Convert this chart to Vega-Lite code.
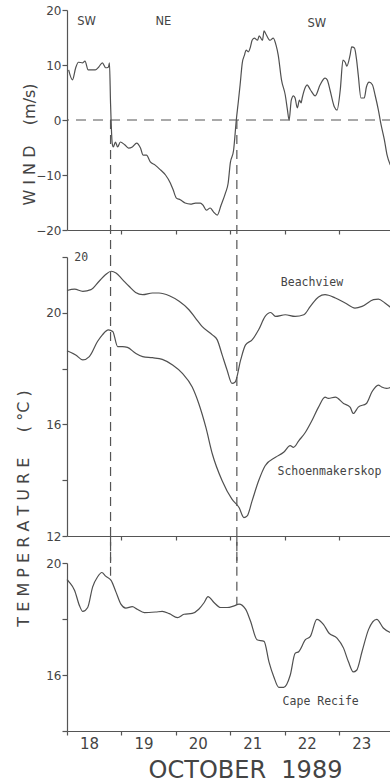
{
  "$schema": "https://vega.github.io/schema/vega-lite/v6.json",
  "background": "white",
  "padding": {"left": 15, "top": 4, "right": 0, "bottom": 0},
  "bounds": "flush",
  "spacing": 27,
  "config": {
    "view": {"stroke": null},
    "axis": {"grid": false, "domainColor": "#555", "tickColor": "#555", "domainWidth": 1.2, "tickWidth": 1.2, "labelColor": "#444", "titleColor": "#444", "labelFont": "DejaVu Sans", "titleFont": "DejaVu Sans", "titleFontWeight": "normal", "labelFontSize": 12}
  },
  "datasets": {
    "wind": [
      {"day":18.03,"v":9.1},{"day":18.10,"v":7.3},{"day":18.16,"v":9.5},{"day":18.21,"v":10.5},{"day":18.29,"v":10.4},{"day":18.33,"v":10.7},{"day":18.39,"v":9.1},{"day":18.52,"v":9.1},{"day":18.58,"v":9.6},{"day":18.65,"v":10.4},{"day":18.71,"v":9.5},{"day":18.76,"v":9.6},{"day":18.78,"v":10.4},{"day":18.80,"v":3},{"day":18.83,"v":-4.2},{"day":18.85,"v":-4.9},{"day":18.89,"v":-4.0},{"day":18.93,"v":-4.9},{"day":18.98,"v":-4.0},{"day":19.06,"v":-4.5},{"day":19.13,"v":-5.1},{"day":19.20,"v":-4.9},{"day":19.28,"v":-4.2},{"day":19.35,"v":-5.1},{"day":19.40,"v":-6.4},{"day":19.46,"v":-6.4},{"day":19.53,"v":-7.6},{"day":19.62,"v":-8.2},{"day":19.72,"v":-9.1},{"day":19.81,"v":-10.0},{"day":19.90,"v":-11.5},{"day":19.95,"v":-12.7},{"day":20.01,"v":-14.2},{"day":20.08,"v":-14.5},{"day":20.17,"v":-15.1},{"day":20.27,"v":-15.3},{"day":20.36,"v":-15.1},{"day":20.45,"v":-15.1},{"day":20.50,"v":-15.5},{"day":20.56,"v":-16.4},{"day":20.63,"v":-16.0},{"day":20.69,"v":-16.7},{"day":20.76,"v":-17.3},{"day":20.83,"v":-15.5},{"day":20.91,"v":-13.3},{"day":20.96,"v":-11.5},{"day":21.00,"v":-7.8},{"day":21.06,"v":-5.5},{"day":21.11,"v":0},{"day":21.15,"v":3.6},{"day":21.18,"v":6.4},{"day":21.22,"v":10.4},{"day":21.26,"v":11.8},{"day":21.29,"v":12.7},{"day":21.33,"v":12.4},{"day":21.37,"v":13.3},{"day":21.40,"v":14.5},{"day":21.44,"v":14.9},{"day":21.50,"v":14.5},{"day":21.53,"v":15.3},{"day":21.59,"v":14.5},{"day":21.62,"v":16.2},{"day":21.66,"v":15.5},{"day":21.73,"v":14.5},{"day":21.79,"v":14.9},{"day":21.84,"v":13.6},{"day":21.88,"v":11.8},{"day":21.94,"v":7.3},{"day":22.01,"v":4.5},{"day":22.05,"v":1.8},{"day":22.08,"v":0},{"day":22.12,"v":3.6},{"day":22.16,"v":4.4},{"day":22.19,"v":4.0},{"day":22.23,"v":2.2},{"day":22.27,"v":3.6},{"day":22.30,"v":3.1},{"day":22.32,"v":4.0},{"day":22.38,"v":6.0},{"day":22.41,"v":6.4},{"day":22.47,"v":5.5},{"day":22.56,"v":4.4},{"day":22.65,"v":6.4},{"day":22.74,"v":7.6},{"day":22.78,"v":7.3},{"day":22.83,"v":5.5},{"day":22.91,"v":2.4},{"day":22.96,"v":1.8},{"day":23.02,"v":5.5},{"day":23.07,"v":10.9},{"day":23.11,"v":10.5},{"day":23.14,"v":9.8},{"day":23.20,"v":11.8},{"day":23.23,"v":13.3},{"day":23.28,"v":13.1},{"day":23.32,"v":10.9},{"day":23.35,"v":8.2},{"day":23.40,"v":4.0},{"day":23.46,"v":4.0},{"day":23.50,"v":6.0},{"day":23.55,"v":6.9},{"day":23.61,"v":6.4},{"day":23.66,"v":4.5},{"day":23.72,"v":1.8},{"day":23.77,"v":-0.9},{"day":23.83,"v":-3.6},{"day":23.88,"v":-6.4},{"day":23.94,"v":-8.2}
    ],
    "temp": [
      {"s":"Beachview","day":18.00,"v":20.80},{"s":"Beachview","day":18.14,"v":20.85},{"s":"Beachview","day":18.29,"v":20.77},{"s":"Beachview","day":18.44,"v":20.83},{"s":"Beachview","day":18.59,"v":21.13},{"s":"Beachview","day":18.71,"v":21.37},{"s":"Beachview","day":18.81,"v":21.49},{"s":"Beachview","day":18.90,"v":21.43},{"s":"Beachview","day":19.02,"v":21.19},{"s":"Beachview","day":19.14,"v":20.95},{"s":"Beachview","day":19.26,"v":20.73},{"s":"Beachview","day":19.39,"v":20.65},{"s":"Beachview","day":19.57,"v":20.71},{"s":"Beachview","day":19.69,"v":20.71},{"s":"Beachview","day":19.88,"v":20.61},{"s":"Beachview","day":20.06,"v":20.41},{"s":"Beachview","day":20.24,"v":20.11},{"s":"Beachview","day":20.36,"v":19.81},{"s":"Beachview","day":20.48,"v":19.51},{"s":"Beachview","day":20.67,"v":19.21},{"s":"Beachview","day":20.76,"v":19.03},{"s":"Beachview","day":20.85,"v":18.49},{"s":"Beachview","day":20.94,"v":17.95},{"s":"Beachview","day":21.03,"v":17.47},{"s":"Beachview","day":21.09,"v":17.52},{"s":"Beachview","day":21.19,"v":18.31},{"s":"Beachview","day":21.28,"v":18.85},{"s":"Beachview","day":21.40,"v":19.03},{"s":"Beachview","day":21.52,"v":19.39},{"s":"Beachview","day":21.64,"v":19.87},{"s":"Beachview","day":21.74,"v":20.01},{"s":"Beachview","day":21.83,"v":19.87},{"s":"Beachview","day":22.01,"v":19.93},{"s":"Beachview","day":22.19,"v":19.87},{"s":"Beachview","day":22.35,"v":19.93},{"s":"Beachview","day":22.47,"v":20.23},{"s":"Beachview","day":22.62,"v":20.57},{"s":"Beachview","day":22.74,"v":20.65},{"s":"Beachview","day":22.93,"v":20.53},{"s":"Beachview","day":23.11,"v":20.35},{"s":"Beachview","day":23.29,"v":20.17},{"s":"Beachview","day":23.42,"v":20.23},{"s":"Beachview","day":23.63,"v":20.47},{"s":"Beachview","day":23.72,"v":20.49},{"s":"Beachview","day":23.84,"v":20.35},{"s":"Beachview","day":23.96,"v":20.17},
      {"s":"Schoenmakerskop","day":18.00,"v":18.64},{"s":"Schoenmakerskop","day":18.16,"v":18.49},{"s":"Schoenmakerskop","day":18.29,"v":18.31},{"s":"Schoenmakerskop","day":18.41,"v":18.43},{"s":"Schoenmakerskop","day":18.56,"v":18.97},{"s":"Schoenmakerskop","day":18.65,"v":19.21},{"s":"Schoenmakerskop","day":18.76,"v":19.39},{"s":"Schoenmakerskop","day":18.84,"v":19.33},{"s":"Schoenmakerskop","day":18.93,"v":18.79},{"s":"Schoenmakerskop","day":19.02,"v":18.79},{"s":"Schoenmakerskop","day":19.11,"v":18.76},{"s":"Schoenmakerskop","day":19.26,"v":18.55},{"s":"Schoenmakerskop","day":19.39,"v":18.43},{"s":"Schoenmakerskop","day":19.57,"v":18.39},{"s":"Schoenmakerskop","day":19.75,"v":18.33},{"s":"Schoenmakerskop","day":19.94,"v":18.13},{"s":"Schoenmakerskop","day":20.12,"v":17.83},{"s":"Schoenmakerskop","day":20.30,"v":17.34},{"s":"Schoenmakerskop","day":20.42,"v":16.75},{"s":"Schoenmakerskop","day":20.55,"v":15.90},{"s":"Schoenmakerskop","day":20.67,"v":14.94},{"s":"Schoenmakerskop","day":20.85,"v":13.98},{"s":"Schoenmakerskop","day":21.03,"v":13.32},{"s":"Schoenmakerskop","day":21.16,"v":13.02},{"s":"Schoenmakerskop","day":21.25,"v":12.66},{"s":"Schoenmakerskop","day":21.31,"v":12.72},{"s":"Schoenmakerskop","day":21.40,"v":13.26},{"s":"Schoenmakerskop","day":21.52,"v":13.98},{"s":"Schoenmakerskop","day":21.64,"v":14.52},{"s":"Schoenmakerskop","day":21.83,"v":14.82},{"s":"Schoenmakerskop","day":21.98,"v":15.00},{"s":"Schoenmakerskop","day":22.10,"v":15.24},{"s":"Schoenmakerskop","day":22.16,"v":15.18},{"s":"Schoenmakerskop","day":22.26,"v":15.42},{"s":"Schoenmakerskop","day":22.38,"v":15.72},{"s":"Schoenmakerskop","day":22.50,"v":16.14},{"s":"Schoenmakerskop","day":22.62,"v":16.62},{"s":"Schoenmakerskop","day":22.74,"v":16.98},{"s":"Schoenmakerskop","day":22.80,"v":16.93},{"s":"Schoenmakerskop","day":22.93,"v":16.98},{"s":"Schoenmakerskop","day":23.08,"v":16.75},{"s":"Schoenmakerskop","day":23.20,"v":16.62},{"s":"Schoenmakerskop","day":23.26,"v":16.39},{"s":"Schoenmakerskop","day":23.35,"v":16.62},{"s":"Schoenmakerskop","day":23.50,"v":16.75},{"s":"Schoenmakerskop","day":23.60,"v":17.16},{"s":"Schoenmakerskop","day":23.72,"v":17.41},{"s":"Schoenmakerskop","day":23.78,"v":17.34},{"s":"Schoenmakerskop","day":23.87,"v":17.29},{"s":"Schoenmakerskop","day":23.96,"v":17.34}
    ],
    "cape": [
      {"day":18.00,"v":19.41},{"day":18.04,"v":19.32},{"day":18.14,"v":19.02},{"day":18.23,"v":18.47},{"day":18.29,"v":18.27},{"day":18.38,"v":18.41},{"day":18.47,"v":19.14},{"day":18.56,"v":19.50},{"day":18.64,"v":19.66},{"day":18.71,"v":19.53},{"day":18.81,"v":19.38},{"day":18.90,"v":18.96},{"day":18.99,"v":18.53},{"day":19.08,"v":18.39},{"day":19.20,"v":18.44},{"day":19.29,"v":18.35},{"day":19.42,"v":18.23},{"day":19.63,"v":18.25},{"day":19.75,"v":18.27},{"day":19.88,"v":18.19},{"day":20.03,"v":18.05},{"day":20.15,"v":18.17},{"day":20.30,"v":18.20},{"day":20.42,"v":18.35},{"day":20.52,"v":18.59},{"day":20.59,"v":18.80},{"day":20.70,"v":18.59},{"day":20.82,"v":18.41},{"day":20.94,"v":18.41},{"day":21.07,"v":18.47},{"day":21.16,"v":18.53},{"day":21.28,"v":18.35},{"day":21.37,"v":17.93},{"day":21.49,"v":17.26},{"day":21.62,"v":17.20},{"day":21.71,"v":16.47},{"day":21.80,"v":15.93},{"day":21.89,"v":15.56},{"day":21.98,"v":15.56},{"day":22.10,"v":15.99},{"day":22.19,"v":16.77},{"day":22.26,"v":16.84},{"day":22.38,"v":17.26},{"day":22.47,"v":17.38},{"day":22.59,"v":17.99},{"day":22.71,"v":17.81},{"day":22.81,"v":17.50},{"day":22.96,"v":17.32},{"day":23.08,"v":16.96},{"day":23.17,"v":16.47},{"day":23.26,"v":16.11},{"day":23.32,"v":16.17},{"day":23.42,"v":16.84},{"day":23.54,"v":17.63},{"day":23.69,"v":17.99},{"day":23.81,"v":17.68},{"day":23.96,"v":17.50}
    ]
  },
  "vconcat": [
    {
      "width": 325, "height": 220,
      "layer": [
        {
          "data": {"name": "wind"},
          "mark": {"type": "line", "color": "#505050", "strokeWidth": 1.2, "interpolate": "monotone"},
          "encoding": {
            "x": {"field": "day", "type": "quantitative", "scale": {"domain": [18, 23.97], "nice": false, "zero": false},
                  "axis": {"values": [19,20,21,22,23], "labels": false, "title": null, "tickSize": 4}},
            "y": {"field": "v", "type": "quantitative", "scale": {"domain": [-20, 20], "nice": false},
                  "axis": {"values": [-20,-10,0,10,20], "tickSize": 5, "labelPadding": 1, "title": "W I N D\u00a0\u00a0\u00a0\u00a0(m/s)", "titleFontSize": 16, "titleX": -33, "titleY": 134, "titleBaseline": "alphabetic", "titleAlign": "center", "titleAngle": -90}}
          }
        },
        {
          "data": {"values": [{"z": 0}]},
          "mark": {"type": "rule", "color": "#555", "strokeWidth": 1.2, "strokeDash": [10, 7]},
          "encoding": {"y": {"field": "z", "type": "quantitative"}}
        },
        {
          "data": {"values": [{"day": 18.80, "a": 0, "b": -24.9}, {"day": 21.12, "a": 0, "b": -24.9}]},
          "mark": {"type": "rule", "color": "#555", "strokeWidth": 1.2, "strokeDash": [9, 6]},
          "encoding": {"x": {"field": "day", "type": "quantitative"}, "y": {"field": "a", "type": "quantitative"}, "y2": {"field": "b"}}
        },
        {
          "data": {"values": [{"day": 18.36, "v": 17.8, "t": "SW"}, {"day": 19.77, "v": 17.8, "t": "NE"}, {"day": 22.59, "v": 17.5, "t": "SW"}]},
          "mark": {"type": "text", "font": "DejaVu Sans", "fontSize": 11.5, "color": "#444"},
          "encoding": {"x": {"field": "day", "type": "quantitative"}, "y": {"field": "v", "type": "quantitative"}, "text": {"field": "t"}}
        }
      ]
    },
    {
      "width": 325, "height": 279,
      "layer": [
        {
          "data": {"name": "temp"},
          "mark": {"type": "line", "color": "#505050", "strokeWidth": 1.2, "interpolate": "monotone"},
          "encoding": {
            "x": {"field": "day", "type": "quantitative", "scale": {"domain": [18, 23.97], "nice": false, "zero": false},
                  "axis": {"values": [19,20,21,22,23], "labels": false, "title": null, "tickSize": 4}},
            "y": {"field": "v", "type": "quantitative", "scale": {"domain": [12, 22], "nice": false, "zero": false},
                  "axis": {"values": [12,14,16,18,20,22], "labelExpr": "datum.value % 4 == 0 && datum.value < 22 ? datum.label : ''", "tickSize": 5, "labelPadding": 1, "title": "T E M P E R A T U R E\u00a0\u00a0\u00a0\u00a0\u00a0( °C )", "titleFontSize": 16, "titleX": -39, "titleY": 251, "titleBaseline": "alphabetic", "titleAlign": "center", "titleAngle": -90}},
            "detail": {"field": "s"}
          }
        },
        {
          "data": {"values": [{"day": 18.80, "a": 22, "b": 11.03}, {"day": 21.12, "a": 22, "b": 11.03}]},
          "mark": {"type": "rule", "color": "#555", "strokeWidth": 1.2, "strokeDash": [9, 6]},
          "encoding": {"x": {"field": "day", "type": "quantitative"}, "y": {"field": "a", "type": "quantitative"}, "y2": {"field": "b"}}
        },
        {
          "data": {"values": [{"day": 22.50, "v": 21.08, "t": "Beachview"}, {"day": 22.82, "v": 14.28, "t": "Schoenmakerskop"}, {"day": 18.26, "v": 21.95, "t": "20"}]},
          "mark": {"type": "text", "font": "DejaVu Sans Mono", "fontSize": 11.5, "color": "#444"},
          "encoding": {"x": {"field": "day", "type": "quantitative"}, "y": {"field": "v", "type": "quantitative"}, "text": {"field": "t"}}
        }
      ]
    },
    {
      "width": 325, "height": 168,
      "layer": [
        {
          "data": {"name": "cape"},
          "mark": {"type": "line", "color": "#505050", "strokeWidth": 1.2, "interpolate": "monotone"},
          "encoding": {
            "x": {"field": "day", "type": "quantitative", "scale": {"domain": [18, 23.97], "nice": false, "zero": false},
                  "axis": {"values": [18,19,20,21,22,23], "labelExpr": "datum.value", "labelOffset": 22, "labelFontSize": 15, "labelPadding": 1, "tickSize": 4, "labelFlush": false, "labelOverlap": false,
                           "title": "OCTOBER\u00a0\u00a01989", "titleFontSize": 24, "titleX": 178, "titleY": 46, "titleBaseline": "alphabetic", "titleAlign": "center"}},
            "y": {"field": "v", "type": "quantitative", "scale": {"domain": [14, 20], "nice": false, "zero": false},
                  "axis": {"values": [14,16,18,20], "labelExpr": "datum.value % 4 == 0 ? datum.label : ''", "tickSize": 5, "labelPadding": 1, "title": null}}
          }
        },
        {
          "data": {"values": [{"day": 18.80, "a": 20.94, "b": 19.38}, {"day": 21.12, "a": 20.94, "b": 18.5}]},
          "mark": {"type": "rule", "color": "#555", "strokeWidth": 1.2, "strokeDash": [9, 6]},
          "encoding": {"x": {"field": "day", "type": "quantitative"}, "y": {"field": "a", "type": "quantitative"}, "y2": {"field": "b"}}
        },
        {
          "data": {"values": [{"day": 22.66, "v": 15.02, "t": "Cape Recife"}]},
          "mark": {"type": "text", "font": "DejaVu Sans Mono", "fontSize": 11.5, "color": "#444"},
          "encoding": {"x": {"field": "day", "type": "quantitative"}, "y": {"field": "v", "type": "quantitative"}, "text": {"field": "t"}}
        }
      ]
    }
  ]
}
